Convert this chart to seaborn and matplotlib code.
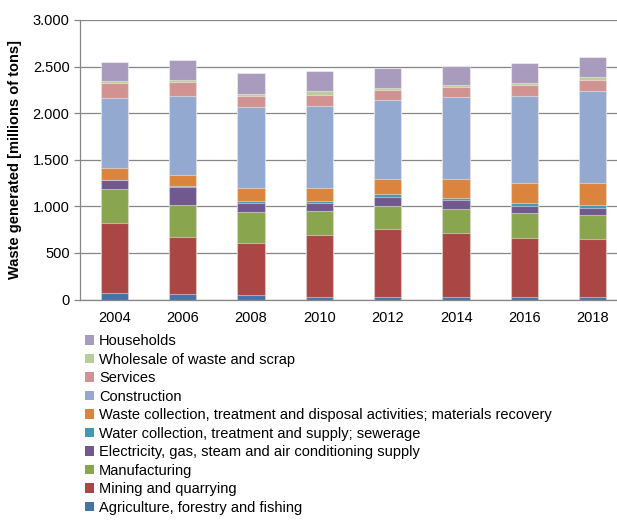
import numpy as np
import pandas as pd
import matplotlib
matplotlib.use("Agg")
import matplotlib.pyplot as plt
import seaborn as sns
from matplotlib.patches import Patch
from matplotlib.ticker import FuncFormatter, MultipleLocator

# data (millions of tons)
years = ["2004", "2006", "2008", "2010", "2012", "2014", "2016", "2018"]
sectors = [
    "Agriculture, forestry and fishing",
    "Mining and quarrying",
    "Manufacturing",
    "Electricity, gas, steam and air conditioning supply",
    "Water collection, treatment and supply; sewerage",
    "Waste collection, treatment and disposal activities; materials recovery",
    "Construction",
    "Services",
    "Wholesale of waste and scrap",
    "Households",
]
agriculture = [65, 57, 47, 22, 22, 22, 22, 22]
mining = [756, 613, 555, 670, 731, 695, 641, 627]
manufacturing = [365, 341, 341, 258, 251, 258, 269, 258]
electricity = [97, 200, 96, 86, 100, 93, 75, 79]
water = [5, 11, 22, 18, 25, 25, 29, 25]
waste_collection = [120, 115, 132, 143, 165, 201, 218, 243]
construction = [760, 842, 868, 875, 849, 878, 925, 979]
services = [154, 151, 125, 121, 108, 107, 122, 125]
wholesale = [18, 25, 25, 47, 18, 18, 21, 25]
households = [205, 211, 223, 215, 215, 208, 219, 215]

colors = ["#4572A7", "#AA4643", "#89A54E", "#71588F", "#4198AF",
          "#DB843D", "#93A9CF", "#D19392", "#B9CD96", "#A99BBD"]

values = [agriculture, mining, manufacturing, electricity, water,
          waste_collection, construction, services, wholesale, households]
df = pd.DataFrame(dict(zip(sectors, values)), index=years)
cum = df.cumsum(axis=1)

sns.set_theme(style="white")
plt.rcParams["font.family"] = ["Liberation Sans", "DejaVu Sans"]
plt.rcParams["text.color"] = "black"
plt.rcParams["axes.labelcolor"] = "black"
plt.rcParams["xtick.labelcolor"] = "black"
plt.rcParams["ytick.labelcolor"] = "black"

fig = plt.figure(figsize=(6.17, 5.22), dpi=100)
ax = fig.add_axes([0.1297, 0.4262, 0.8865, 0.5355])
ax.yaxis.grid(True, color="#868686", linewidth=0.9)
ax.set_axisbelow(True)

# stacked bars: draw cumulative totals from the top layer down
for sec, col in zip(reversed(sectors), reversed(colors)):
    plot_df = pd.DataFrame({"year": years, "val": cum[sec].values})
    sns.barplot(data=plot_df, x="year", y="val", order=years, color=col,
                width=0.4, saturation=1, edgecolor=(1, 1, 1, 0.45),
                linewidth=0.8, ax=ax)

ax.set_xlim(-0.5, 7.5)
ax.set_ylim(0, 3000)
ax.yaxis.set_major_locator(MultipleLocator(500))
ax.yaxis.set_major_formatter(FuncFormatter(lambda v, p: f"{int(v):,}".replace(",", ".")))
ax.set_xlabel("")
ax.set_ylabel("Waste generated [millions of tons]", fontsize=10.5,
              fontweight="bold", labelpad=8)

for s in ["top", "right"]:
    ax.spines[s].set_visible(False)
for s in ["left", "bottom"]:
    ax.spines[s].set_color("#868686")
    ax.spines[s].set_linewidth(0.9)

ax.tick_params(axis="x", which="major", length=0, labelsize=10.5, pad=8)
ax.set_xticks(np.arange(-0.5, 8, 1), minor=True)
ax.tick_params(axis="x", which="minor", length=4, color="#868686", width=0.9)
ax.tick_params(axis="y", length=4, color="#868686", width=0.9,
               labelsize=10.5, left=True)

handles = [Patch(facecolor=c, edgecolor="none", label=s)
           for s, c in zip(reversed(sectors), reversed(colors))]
fig.legend(handles=handles, loc="upper left",
           bbox_to_anchor=(0.138, 0.36), frameon=False, fontsize=10.5,
           handlelength=0.6, handleheight=0.6, handletextpad=0.35,
           labelspacing=0.31, borderpad=0, borderaxespad=0)

fig.savefig("out.png", dpi=100)
